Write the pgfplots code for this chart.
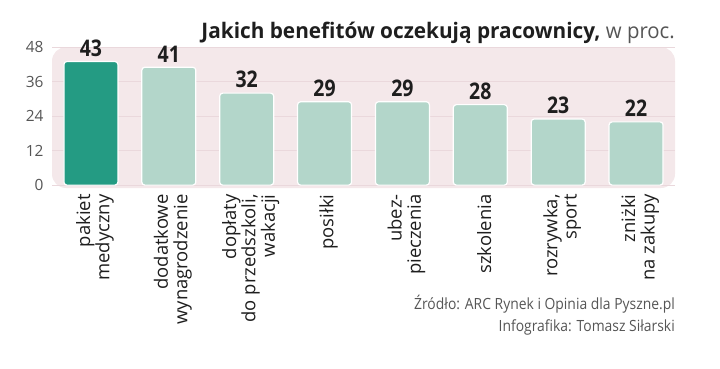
\documentclass[border=0pt]{standalone}
\usepackage{pgfplots}
\pgfplotsset{compat=1.18}
\usepackage{fontspec}
\setmainfont{Open Sans}
\definecolor{bgpink}{RGB}{244,232,234}
\definecolor{gridpink}{RGB}{234,216,220}
\definecolor{darkteal}{RGB}{36,155,131}
\definecolor{lightteal}{RGB}{179,214,202}
\definecolor{tickgray}{RGB}{85,85,85}
\definecolor{txt}{RGB}{30,30,30}
\begin{document}
\begin{tikzpicture}[x=1bp,y=1bp]
\path (0,0) rectangle (720,368);
\begin{axis}[
  at={(52bp,180bp)}, anchor=south west,
  scale only axis, width=623bp, height=140.875bp,
  xmin=-0.5, xmax=7.5, ymin=-1, ymax=48,
  axis background/.style={fill=bgpink, rounded corners=14bp},
  axis line style={draw=none},
  major tick style={draw=none},
  ymajorgrids, grid style={gridpink, line width=0.8bp},
  ytick={0,12,24,36,48},
  yticklabel style={font=\fontsize{15.5}{15.5}\selectfont, text=tickgray, xshift=-5bp},
  /pgf/number format/assume math mode=true,
  xtick={0,...,7},
  xticklabels={{pakiet\\medyczny},{dodatkowe\\wynagrodzenie},{dopłaty\\do przedszkoli,\\wakacji},{posiłki},{ubez-\\pieczenia},{szkolenia},{rozrywka,\\sport},{zniżki\\na zakupy}},
  xticklabel style={rotate=90, anchor=east, align=right, font=\fontsize{18.5}{19.5}\selectfont, text=txt, inner sep=2bp, yshift=-4bp},
  ybar, bar width=54bp, bar shift=0pt,
  nodes near coords={\scalebox{0.85}[1]{\pgfmathprintnumber\pgfplotspointmeta}},
  nodes near coords style={font=\fontsize{23}{23}\selectfont\bfseries, text=txt, inner sep=1.5bp, yshift=3bp},
  clip=false,
]
\addplot[fill=darkteal, draw=white, line width=1.2bp, rounded corners=3bp] coordinates {(0,43)};
\addplot[fill=lightteal, draw=white, line width=1.2bp, rounded corners=3bp] coordinates {(1,41) (2,32) (3,29) (4,29) (5,28) (6,23) (7,22)};
\end{axis}
\node[anchor=base east, inner sep=0pt, text=txt] at (675,330) {\fontsize{21.5}{21.5}\selectfont\scalebox{0.97}[1]{\bfseries Jakich benefitów oczekują pracownicy,}\ \textcolor{tickgray}{\scalebox{0.95}[1]{w proc.}}};
\node[anchor=base east, inner sep=0pt, text=tickgray] at (675,59) {\fontsize{15.5}{15.5}\selectfont\scalebox{0.9}[1]{Źródło: ARC Rynek i Opinia dla Pyszne.pl}};
\node[anchor=base east, inner sep=0pt, text=tickgray] at (675,37) {\fontsize{15.5}{15.5}\selectfont\scalebox{0.9}[1]{Infografika: Tomasz Siłarski}};
\end{tikzpicture}
\end{document}
